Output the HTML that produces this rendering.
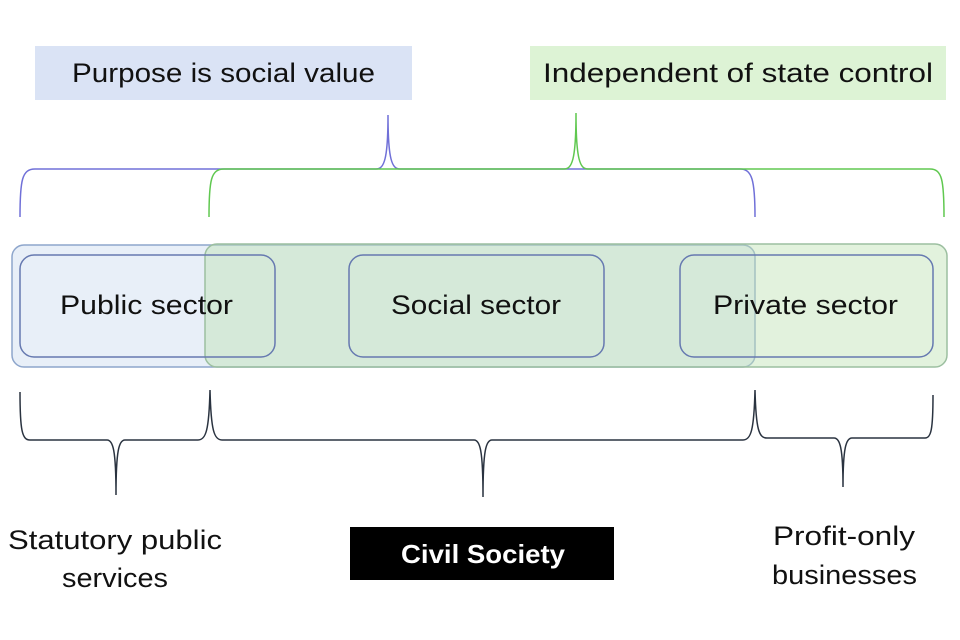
<!DOCTYPE html>
<html><head><meta charset="utf-8"><style>
html,body{margin:0;padding:0;background:#fff;}
svg{display:block;}
text{font-family:"Liberation Sans",sans-serif;}
</style></head><body>
<svg width="960" height="640" viewBox="0 0 960 640" xmlns="http://www.w3.org/2000/svg">
<rect x="35" y="46" width="377" height="54" fill="#dae3f5"/>
<text x="72" y="82" font-size="27" textLength="303" lengthAdjust="spacingAndGlyphs" fill="#111">Purpose is social value</text>
<rect x="530" y="46" width="416" height="54" fill="#ddf3d5"/>
<text x="543" y="82" font-size="27" textLength="390" lengthAdjust="spacingAndGlyphs" fill="#111">Independent of state control</text>

<path d="M20,217 C20,180 22,169 35,169 L376,169 C384,169 388,160 388,115 C388,160 392,169 400,169 L740,169 C752,169 755,180 755,217" fill="none" stroke="#7070d8" stroke-width="1.5"/>
<path d="M209,217 C209,180 211,169 224,169 L564,169 C572,169 576,160 576,113 C576,160 580,169 588,169 L930,169 C942,169 944,180 944,217" fill="none" stroke="#60c850" stroke-width="1.5"/>

<rect x="12" y="245" width="743" height="122" rx="12" fill="#c6d6ee" fill-opacity="0.4" stroke="#8ea6cc" stroke-width="1.5"/>
<rect x="205" y="244" width="742" height="123" rx="12" fill="#bfe2b4" fill-opacity="0.45" stroke="#9cbfa0" stroke-width="1.5"/>
<rect x="20" y="255" width="255" height="102" rx="14" fill="none" stroke="#6679b0" stroke-width="1.5"/>
<rect x="349" y="255" width="255" height="102" rx="14" fill="none" stroke="#6679b0" stroke-width="1.5"/>
<rect x="680" y="255" width="253" height="102" rx="14" fill="none" stroke="#6679b0" stroke-width="1.5"/>
<text x="60" y="314" font-size="27" textLength="173" lengthAdjust="spacingAndGlyphs" fill="#111">Public sector</text>
<text x="391" y="314" font-size="27" textLength="170" lengthAdjust="spacingAndGlyphs" fill="#111">Social sector</text>
<text x="713" y="314" font-size="27" textLength="185" lengthAdjust="spacingAndGlyphs" fill="#111">Private sector</text>

<path d="M20,392 C20,430 22,440 30,440 L107,440 C113,440 116,450 116,495 C116,450 119,440 125,440 L198,440 C206,440 209,430 210,390 C211,430 214,440 222,440 L474,440 C480,440 483,450 483,497 C483,450 486,440 492,440 L743,440 C751,440 754,430 755,390 C756,430 759,438 767,438 L834,438 C840,438 843,448 843,487 C843,448 846,438 852,438 L925,438 C931,438 933,430 933,395" fill="none" stroke="#2a3340" stroke-width="1.5"/>

<text x="8" y="549" font-size="27" textLength="214" lengthAdjust="spacingAndGlyphs" fill="#111">Statutory public</text>
<text x="62" y="587" font-size="27" textLength="106" lengthAdjust="spacingAndGlyphs" fill="#111">services</text>
<rect x="350" y="527" width="264" height="53" fill="#000"/>
<text x="401" y="563" font-size="26" font-weight="bold" textLength="164" lengthAdjust="spacingAndGlyphs" fill="#fff">Civil Society</text>
<text x="773" y="545" font-size="27" textLength="142" lengthAdjust="spacingAndGlyphs" fill="#111">Profit-only</text>
<text x="772" y="584" font-size="27" textLength="145" lengthAdjust="spacingAndGlyphs" fill="#111">businesses</text>
</svg>
</body></html>
